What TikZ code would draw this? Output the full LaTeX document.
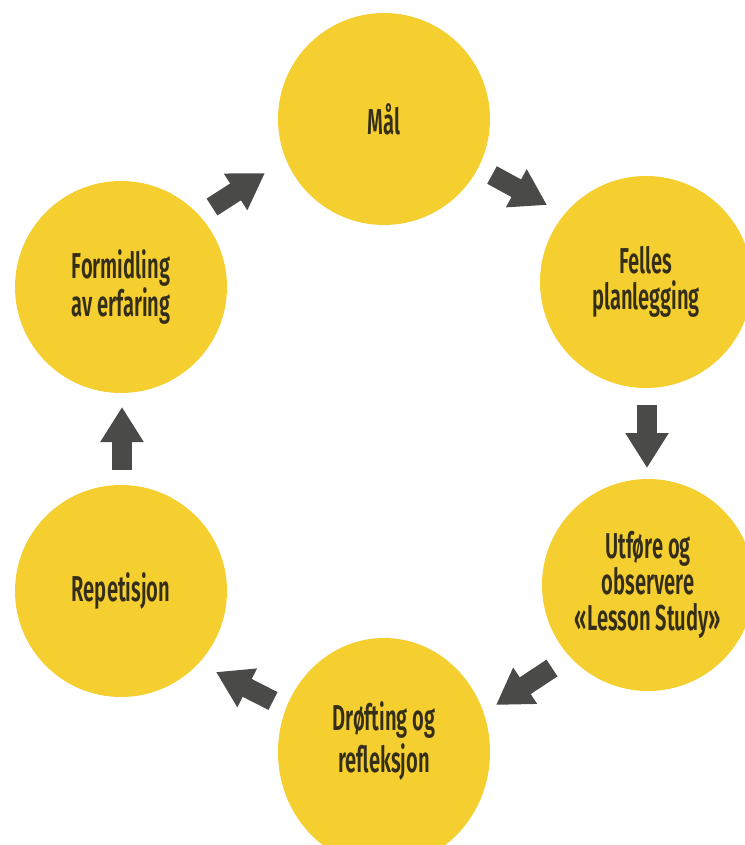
\documentclass[tikz,border=0pt]{standalone}
\usepackage{fontspec}
\usetikzlibrary{arrows.meta,calc,shapes.geometric}
\newfontfamily\stagefont[FakeStretch=0.56]{Fira Sans SemiBold}

\definecolor{stageyellow}{RGB}{245,206,48}
\definecolor{arrowgray}{RGB}{74,74,72}
\definecolor{labelink}{RGB}{52,46,24}

\tikzset{
  stagetext/.style={align=center, text=labelink, inner sep=0pt,
    font=\stagefont\fontsize{36}{36}\selectfont},
  stage/.style={stagetext, circle, fill=stageyellow, minimum size=212pt},
  flow/.style={draw=arrowgray, line width=20pt,
    -{Triangle[length=35pt,width=41pt]}},
}

\begin{document}
\begin{tikzpicture}[x=1pt,y=-1pt]
  \useasboundingbox (0,0) rectangle (744,845);

  % the six stages of the cycle
  \node[stage] (mal)        at (384,119) {Mål};
  \node[stage] (felles)     at (646,282) {Felles\\planlegging};
  \node[stage] (utfore)     at (648,585) {Utføre og\\observere\\«Lesson Study»};
  \node[stage, ellipse, minimum width=212pt, minimum height=228pt]
               (drofting)   at (384,752) {};
  \node[stagetext, font=\stagefont\fontsize{36}{42}\selectfont]
               (drofting-text) at (384,741) {Drøfting og\\refleksjon};
  \node[stage] (repetisjon) at (121,591) {Repetisjon};
  \node[stage] (formidling) at (121,287) {Formidling\\av erfaring};

  % arrow ends, placed in the gaps between neighbouring stages
  \coordinate (fo-out) at ($(formidling)+(91,-80)$);
  \coordinate (ma-in)  at ($(mal)+(-119,54)$);
  \coordinate (ma-out) at ($(mal)+(108,56)$);
  \coordinate (fe-in)  at ($(felles)+(-99,-77)$);
  \coordinate (fe-out) at ($(felles)+(1,123)$);
  \coordinate (ut-in)  at ($(utfore)+(-1,-117)$);
  \coordinate (ut-out) at ($(utfore)+(-96,83)$);
  \coordinate (dr-in)  at ($(drofting)+(112,-47)$);
  \coordinate (dr-out) at ($(drofting)+(-111,-51)$);
  \coordinate (re-in)  at ($(repetisjon)+(95,81)$);
  \coordinate (re-out) at ($(repetisjon)+(1,-121)$);
  \coordinate (fo-in)  at ($(formidling)+(1,120)$);

  % the cycle
  \draw[flow] (fo-out) -- (ma-in);
  \draw[flow] (ma-out) -- (fe-in);
  \draw[flow] (fe-out) -- (ut-in);
  \draw[flow] (ut-out) -- (dr-in);
  \draw[flow] (dr-out) -- (re-in);
  \draw[flow] (re-out) -- (fo-in);
\end{tikzpicture}
\end{document}
